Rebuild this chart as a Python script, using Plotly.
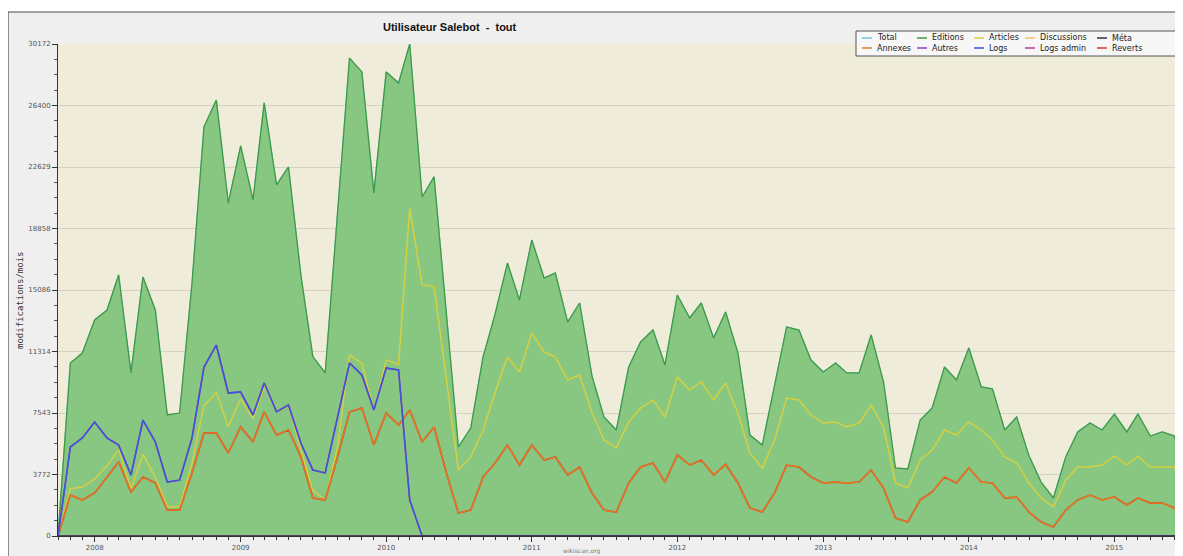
import pandas as pd
import plotly.graph_objects as go

# ---------------- data (monthly, from Oct 2007) ----------------
months = pd.date_range("2007-10-01", periods=94, freq="MS")

editions = [0, 10610, 11220, 13250, 13860, 16010, 10000, 15880, 13860, 7420,
            7540, 15500, 25080, 26740, 20420, 23920, 20610, 26560, 21530, 22630,
            16000, 11000, 10000, 19700, 29310, 28460, 21040, 28460, 27780, 30172,
            20790, 22020, 13700, 5460, 6620, 11000, 13600, 16740, 14470, 18150,
            15820, 16130, 13120, 14290, 9800, 7300, 6500, 10360, 11900, 12630,
            10490, 14780, 13370, 14290, 12140, 13740, 11220, 6190, 5580, 9300,
            12820, 12630, 10790, 10060, 10610, 10000, 10000, 12330, 9450, 4170,
            4110, 7110, 7850, 10360, 9570, 11530, 9140, 9020, 6500, 7300,
            4900, 3310, 2330, 4850, 6380, 6930, 6500, 7480, 6380, 7480,
            6130, 6380, 6130, 2000]
total = list(editions)

articles = [0, 2900, 3000, 3500, 4300, 5300, 2900, 5000, 3600, 1800,
            1800, 4500, 8000, 8800, 6700, 8400, 7200, 9200, 7600, 8000,
            5300, 2800, 2200, 5500, 11100, 10600, 7700, 10800, 10500, 20100,
            15400, 15300, 9600, 4050, 4850, 6500, 8800, 10980, 10060, 12450,
            11290, 10980, 9570, 9870, 7540, 5890, 5400, 6990, 7850, 8340,
            7300, 9750, 8950, 9450, 8340, 9380, 7540, 5090, 4170, 5890,
            8460, 8340, 7420, 6930, 6990, 6690, 6930, 8030, 6690, 3250,
            2940, 4660, 5270, 6500, 6190, 7000, 6500, 5890, 4850, 4480,
            3250, 2330, 1780, 3430, 4230, 4230, 4350, 4910, 4350, 4910,
            4230, 4230, 4230, 1500]

annexes = [0, 2510, 2210, 2640, 3620, 4540, 2700, 3620, 3250, 1590,
           1590, 3860, 6320, 6320, 5090, 6690, 5770, 7610, 6190, 6500,
           4850, 2330, 2210, 4850, 7610, 7850, 5580, 7540, 6810, 7730,
           5770, 6690, 3860, 1410, 1590, 3620, 4480, 5580, 4350, 5580,
           4660, 4850, 3740, 4230, 2640, 1590, 1470, 3250, 4230, 4480,
           3310, 4970, 4350, 4660, 3740, 4400, 3250, 1720, 1470, 2640,
           4350, 4230, 3620, 3250, 3310, 3250, 3310, 4050, 2940, 1100,
           860, 2210, 2700, 3620, 3250, 4170, 3310, 3250, 2330, 2390,
           1470, 860, 550, 1590, 2210, 2510, 2210, 2390, 1900, 2330,
           2020, 2020, 1720, 400]
reverts = list(annexes)  # drawn under the Annexes line (same readings)

logs = [0, 5460, 6010, 6990, 6010, 5580, 3740, 7110, 5770, 3310,
        3430, 6010, 10360, 11710, 8770, 8830, 7420, 9380, 7610, 8030,
        5700, 4050, 3860, 7300, 10610, 9870, 7730, 10300, 10180, 2210] + [0] * 64
autres = list(logs)  # purple line lying under the Logs line

discussions = [0] * 94
meta = [0] * 94
logs_admin = [0] * 94

y_tickvals = [0, 3771.5, 7543, 11314.5, 15086, 18857.5, 22629, 26400.5, 30172]
y_ticktext = ["0", "3772", "7543", "11314", "15086", "18858", "22629", "26400", "30172"]

# ---------------- geometry helpers ----------------
# the page body has an 8px margin: figure pixel = picture pixel - 8
OFF = 8
W, H = 1183 - OFF, 556 - OFF
L, T, B = 58 - OFF, 44 - OFF, 20
PW, PH = W - L, H - T - B


def px(x):
    return (x - OFF - L) / PW


def py(y):
    return (T + PH - (y - OFF)) / PH


colors = {
    "Total": "#6ec8ec",
    "Editions": "#3f9a45",
    "Articles": "#d4d040",
    "Discussions": "#f2c46a",
    "Méta": "#30304a",
    "Annexes": "#e3801e",
    "Autres": "#8a3fc0",
    "Logs": "#3a55d8",
    "Logs admin": "#b03a9a",
    "Reverts": "#d83030",
}

fig = go.Figure()
fig.add_trace(go.Scatter(x=months, y=total, mode="lines", name="Total",
                         line=dict(color=colors["Total"], width=1.2)))
fig.add_trace(go.Scatter(x=months, y=editions, mode="lines", name="Editions",
                         fill="tozeroy", fillcolor="rgb(136,199,130)",
                         line=dict(color=colors["Editions"], width=1.3)))
fig.add_trace(go.Scatter(x=months, y=discussions, mode="lines", name="Discussions",
                         line=dict(color=colors["Discussions"], width=1.2)))
fig.add_trace(go.Scatter(x=months, y=articles, mode="lines", name="Articles",
                         line=dict(color=colors["Articles"], width=1.5)))
fig.add_trace(go.Scatter(x=months, y=reverts, mode="lines", name="Reverts",
                         line=dict(color=colors["Reverts"], width=1.7)))
fig.add_trace(go.Scatter(x=months, y=annexes, mode="lines", name="Annexes",
                         line=dict(color=colors["Annexes"], width=1.3)))
fig.add_trace(go.Scatter(x=months, y=autres, mode="lines", name="Autres",
                         line=dict(color=colors["Autres"], width=1.7)))
fig.add_trace(go.Scatter(x=months, y=logs, mode="lines", name="Logs",
                         line=dict(color=colors["Logs"], width=1.3)))
fig.add_trace(go.Scatter(x=months, y=logs_admin, mode="lines", name="Logs admin",
                         line=dict(color=colors["Logs admin"], width=1.2)))
fig.add_trace(go.Scatter(x=months, y=meta, mode="lines", name="Méta",
                         line=dict(color=colors["Méta"], width=1.5)))

shapes = [
    # outer frame of the picture
    dict(type="rect", xref="paper", yref="paper", layer="below",
         x0=px(8), x1=px(1195), y0=py(570), y1=py(12),
         fillcolor="#efefef", line=dict(color="#4a4a4a", width=1.2)),
    # plot area background
    dict(type="rect", xref="paper", yref="paper", layer="below",
         x0=0, x1=1, y0=0, y1=1, fillcolor="#efecda", line=dict(width=0)),
    # legend box
    dict(type="rect", xref="paper", yref="paper", layer="above",
         x0=px(856), x1=px(1195), y0=py(56), y1=py(31),
         fillcolor="#f7f7f7", line=dict(color="#555555", width=1)),
]

annotations = [
    dict(text="<b>Utilisateur Salebot  -  tout</b>", xref="paper", yref="paper",
         x=px(450), y=py(27), showarrow=False, xanchor="center", yanchor="middle",
         font=dict(family="Liberation Sans, Arial", size=11, color="#111")),
    dict(text="modifications/mois", xref="paper", yref="paper",
         x=px(20), y=py(300), showarrow=False, textangle=-90,
         xanchor="center", yanchor="middle",
         font=dict(family="DejaVu Sans Mono", size=9, color="#333")),
    dict(text="wikiscan.org", xref="paper", yref="paper",
         x=px(582), y=py(551), showarrow=False, xanchor="center", yanchor="middle",
         font=dict(family="DejaVu Sans", size=6, color="#777")),
]

legend_rows = [
    (38, ["Total", "Editions", "Articles", "Discussions", "Méta"]),
    (48, ["Annexes", "Autres", "Logs", "Logs admin", "Reverts"]),
]
col_x = [862, 917, 974, 1025, 1097]
for yrow, names in legend_rows:
    for cx, name in zip(col_x, names):
        shapes.append(dict(type="line", xref="paper", yref="paper", layer="above",
                           x0=px(cx), x1=px(cx + 10), y0=py(yrow), y1=py(yrow),
                           line=dict(color=colors[name], width=1.5)))
        annotations.append(dict(text=name, xref="paper", yref="paper",
                                x=px(cx + 13), y=py(yrow), showarrow=False,
                                xanchor="left", yanchor="middle",
                                font=dict(family="DejaVu Sans", size=8, color="#222")))

fig.update_layout(
    width=W, height=H,
    margin=dict(l=L, r=0, t=T, b=B, pad=0),
    paper_bgcolor="white",
    plot_bgcolor="rgba(0,0,0,0)",
    showlegend=False,
    shapes=shapes,
    annotations=annotations,
    xaxis=dict(
        type="date",
        range=["2007-10-01", "2015-06-22"],
        tick0="2008-01-01", dtick="M12", tickformat="%Y",
        ticks="outside", ticklen=5, tickcolor="#333",
        minor=dict(dtick="M1", ticks="outside", ticklen=3, tickcolor="#333"),
        showgrid=False, showline=True, linecolor="#333", linewidth=1,
        tickfont=dict(family="DejaVu Sans", size=7, color="#555"),
        zeroline=False,
    ),
    yaxis=dict(
        range=[0, 30172],
        tickmode="array", tickvals=y_tickvals, ticktext=y_ticktext,
        ticks="outside", ticklen=5, tickcolor="#333",
        minor=dict(tickmode="linear", tick0=0, dtick=942.875, ticks="outside",
                   ticklen=3, tickcolor="#555", showgrid=False),
        showgrid=True, gridcolor="#d6d2c2", gridwidth=1,
        showline=True, linecolor="#333", linewidth=1,
        tickfont=dict(family="DejaVu Sans", size=7, color="#555"),
        zeroline=False,
    ),
)

fig.write_html("out.html")
